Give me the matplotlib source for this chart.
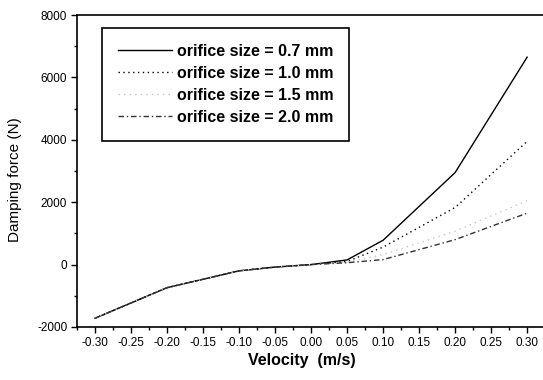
import matplotlib
matplotlib.use("Agg")
import matplotlib.pyplot as plt
from matplotlib.ticker import MultipleLocator

# values
velocity = [-0.30, -0.20, -0.10, -0.05, 0.00, 0.05, 0.10, 0.20, 0.30]
force_07 = [-1720, -740, -200, -80, 0, 150, 780, 2950, 6650]
force_10 = [-1720, -740, -200, -80, 0, 100, 560, 1830, 3950]
force_15 = [-1720, -740, -200, -80, 0, 80, 320, 1070, 2050]
force_20 = [-1720, -740, -200, -80, 0, 60, 160, 800, 1650]
labels = ["orifice size = 0.7 mm", "orifice size = 1.0 mm",
          "orifice size = 1.5 mm", "orifice size = 2.0 mm"]
xticks = [-0.30, -0.25, -0.20, -0.15, -0.10, -0.05, 0.00, 0.05, 0.10, 0.15, 0.20, 0.25, 0.30]

plt.rcParams["font.family"] = "Liberation Sans"
plt.rcParams["axes.unicode_minus"] = False

fig = plt.figure(figsize = (5.43, 3.80), dpi = 100)
ax = fig.add_axes([0.1418, 0.1395, 0.8582, 0.821])

ax.plot(velocity, force_07, color = "black", lw = 1.0, ls = "-", label = labels[0])
ax.plot(velocity, force_10, color = "black", lw = 1.0, ls = (0, (1, 2.5)), label = labels[1])
ax.plot(velocity, force_15, color = "#c8c8c8", lw = 1.0, ls = (0, (1, 3)), label = labels[2])
ax.plot(velocity, force_20, color = "#333333", lw = 1.0, ls = (0, (4, 2, 1, 2)), label = labels[3])

ax.set_xlim(-0.325, 0.322)
ax.set_ylim(-2000, 8000)
ax.set_xticks(xticks)
ax.set_xticklabels(["%.2f" % v if abs(v) > 1e-9 else "0.00" for v in xticks])
ax.xaxis.set_minor_locator(MultipleLocator(0.025))
ax.yaxis.set_major_locator(MultipleLocator(2000))
ax.yaxis.set_minor_locator(MultipleLocator(1000))

ax.tick_params(which = "major", direction = "out", length = 4, width = 1, labelsize = 8.5, pad = 3)
ax.tick_params(which = "minor", direction = "out", length = 2, width = 1)
ax.spines["right"].set_visible(False)
for s in ["left", "bottom", "top"]:
    ax.spines[s].set_linewidth(1.2)

ax.set_xlabel("Velocity  (m/s)", fontsize = 11.5, fontweight = "bold")
ax.xaxis.set_label_coords(0.483, -0.083)
ax.set_ylabel("Damping force (N)", fontsize = 11)
ax.yaxis.set_label_coords(-0.118, 0.471)

leg = ax.legend(loc = "upper left", bbox_to_anchor = (0.053, 0.959), borderaxespad = 0,
                fancybox = False, framealpha = 1, edgecolor = "black",
                prop = {"size": 11.5, "weight": "bold"}, handlelength = 3.4,
                handletextpad = 0.3, labelspacing = 0.44, borderpad = 1.0)
leg.get_frame().set_linewidth(1.2)

fig.savefig("out.png", dpi = 100)
